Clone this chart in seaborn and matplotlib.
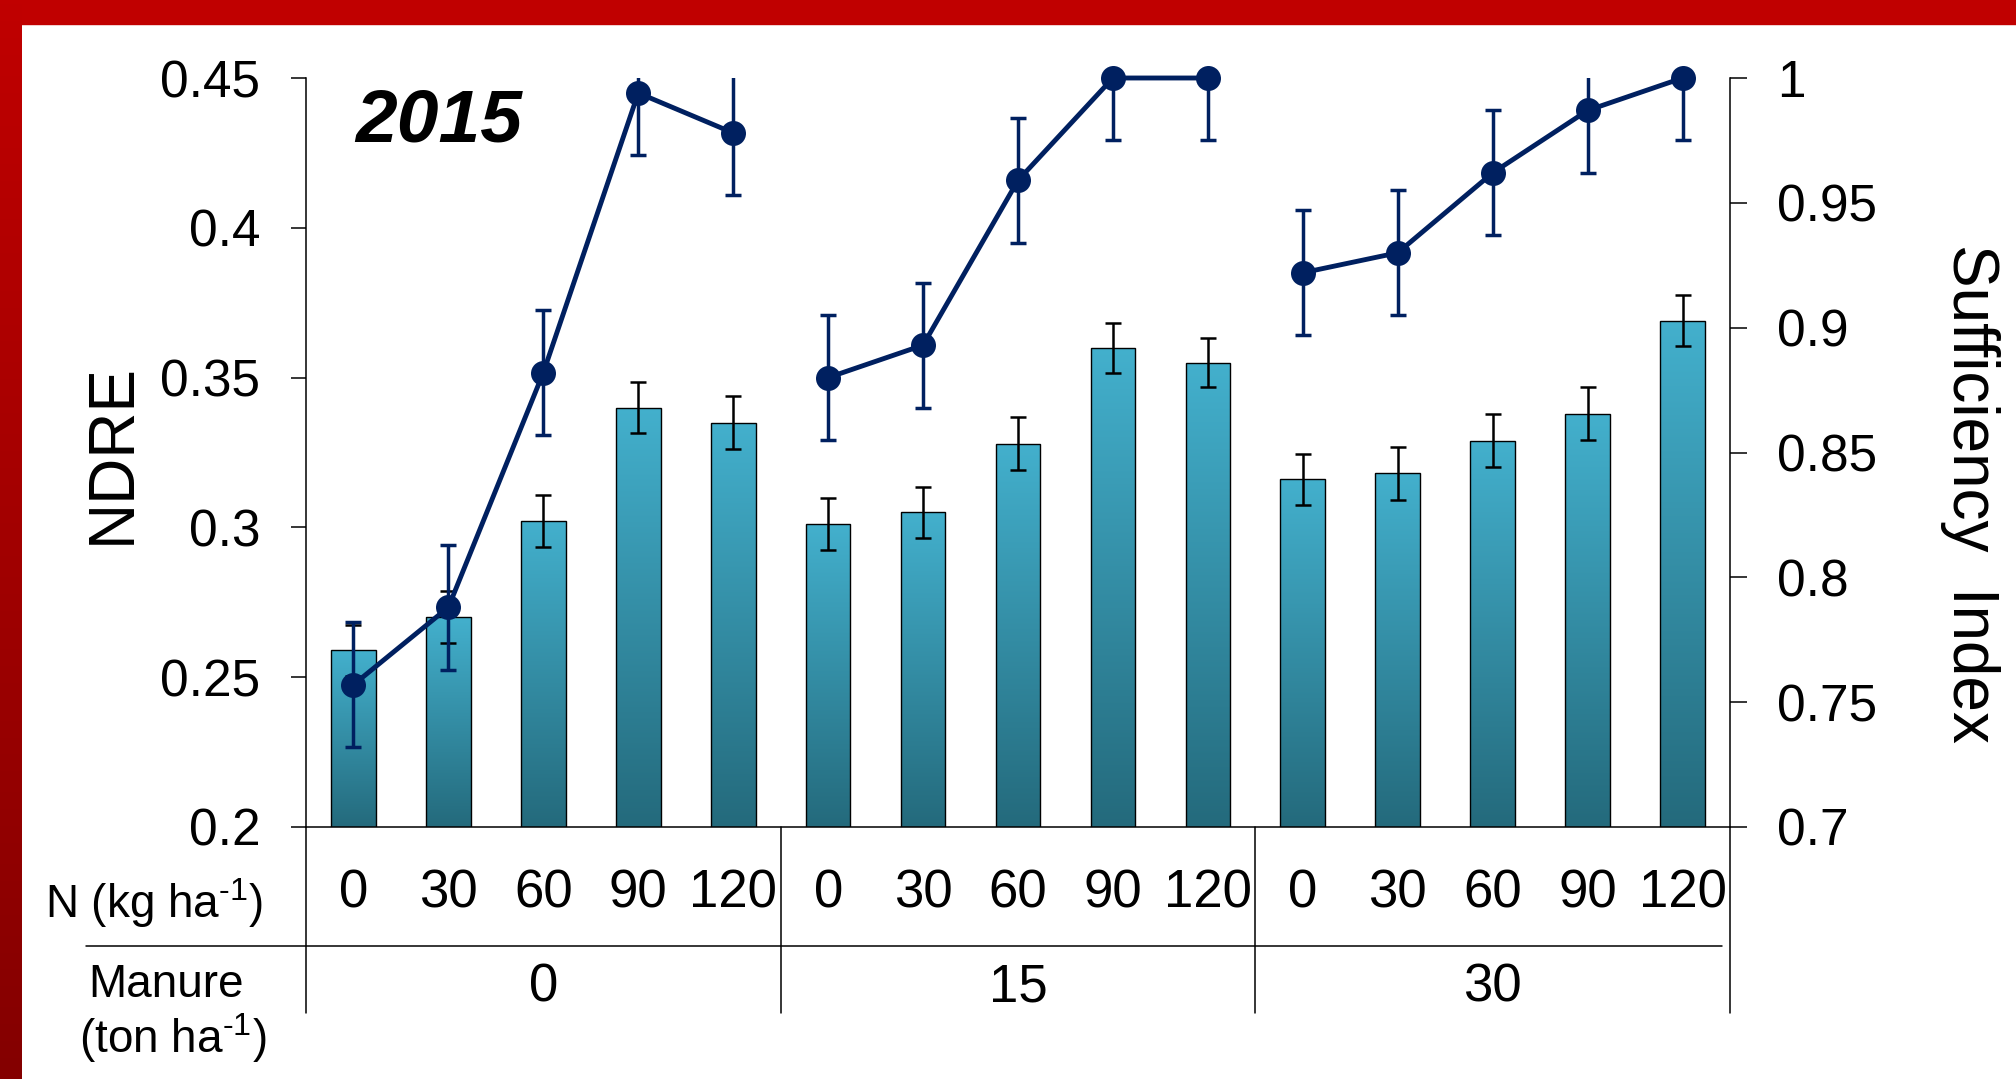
import numpy as np
import pandas as pd
import matplotlib
matplotlib.use("Agg")
import matplotlib.pyplot as plt
import seaborn as sns
from matplotlib.colors import LinearSegmentedColormap
from matplotlib.lines import Line2D
from matplotlib.patches import Rectangle

# ---------------- data ----------------
manure_levels = [0, 15, 30]
n_rates = [0, 30, 60, 90, 120]
ndre = [0.259, 0.270, 0.302, 0.340, 0.335,
        0.301, 0.305, 0.328, 0.360, 0.355,
        0.316, 0.318, 0.329, 0.338, 0.369]
ndre_se = [0.0085, 0.0087, 0.0087, 0.0085, 0.0087,
           0.0087, 0.0085, 0.0087, 0.0083, 0.0083,
           0.0085, 0.0087, 0.0087, 0.0087, 0.0085]
suff_index = [0.757, 0.788, 0.882, 0.994, 0.978,
              0.880, 0.893, 0.959, 1.000, 1.000,
              0.922, 0.930, 0.962, 0.987, 1.000]
suff_se = [0.025, 0.025, 0.025, 0.025, 0.025,
           0.025, 0.025, 0.025, 0.025, 0.025,
           0.025, 0.025, 0.025, 0.025, 0.025]

df = pd.DataFrame({
    "manure": np.repeat(manure_levels, len(n_rates)),
    "n": n_rates * len(manure_levels),
    "ndre": ndre,
    "si": suff_index,
})
df["pos"] = np.arange(len(df))
df["treat"] = df["manure"].astype(str) + "-" + df["n"].astype(str)

navy = "#002060"
W, H = 2016, 1079

sns.set_style("ticks")
plt.rcParams["font.family"] = ["Liberation Sans", "DejaVu Sans"]
plt.rcParams["mathtext.fontset"] = "custom"
plt.rcParams["mathtext.rm"] = "Liberation Sans"
plt.rcParams["mathtext.it"] = "Liberation Sans:italic"
plt.rcParams["text.color"] = "black"
plt.rcParams["axes.labelcolor"] = "black"

fig = plt.figure(figsize=(W / 100, H / 100), dpi=100)
fig.patch.set_facecolor("white")

# red frame (top bar + left gradient strip)
fig.add_artist(Rectangle((0, 1 - 24 / H), 1, 24 / H, transform=fig.transFigure,
                         color="#C00000", zorder=0))
strip = fig.add_axes([0, 0, 22 / W, 1])
red_cmap = LinearSegmentedColormap.from_list("red", ["#840000", "#C00000"])
strip.imshow(np.linspace(0, 1, 256).reshape(-1, 1), cmap=red_cmap,
             origin="lower", aspect="auto", extent=[0, 1, 0, 1])
strip.axis("off")

ax = fig.add_axes([306 / W, 1 - 827 / H, 1424 / W, 749 / H])

# NDRE bars
sns.barplot(data=df, x="treat", y="ndre", order=list(df["treat"]), color="#3A9DB8",
            width=0.47, edgecolor="black", linewidth=1.0, errorbar=None, ax=ax)

bar_cmap = LinearSegmentedColormap.from_list("bar", ["#246A7C", "#43B0CD"])
grad = np.linspace(0, 1, 256).reshape(-1, 1)
for p in ax.patches:
    x0, w, h = p.get_x(), p.get_width(), p.get_height()
    im = ax.imshow(grad, cmap=bar_cmap, origin="lower", aspect="auto",
                   extent=[x0, x0 + w, 0.2, h], zorder=p.get_zorder() - 0.1)
    im.set_clip_path(p)
    p.set_facecolor("none")

ax.errorbar(df["pos"], df["ndre"], yerr=ndre_se, fmt="none", ecolor="black",
            elinewidth=1.8, capsize=6, capthick=1.8, zorder=5)

ax.set_xlim(-0.5, len(df) - 0.5)
ax.set_ylim(0.2, 0.45)
yt = [0.2, 0.25, 0.3, 0.35, 0.4, 0.45]
ax.set_yticks(yt, [f"{v:g}" for v in yt])
ax.tick_params(axis="y", direction="out", length=11, width=1.1, pad=22,
               labelsize=37, colors="black")
ax.tick_params(axis="x", length=0, labelbottom=False)
ax.set_xlabel("")
ax.set_ylabel("")
for s in ["top", "right"]:
    ax.spines[s].set_visible(False)
for s in ["left", "bottom"]:
    ax.spines[s].set_linewidth(1.1)
    ax.spines[s].set_color("black")

# sufficiency index line on the right axis
ax2 = ax.twinx()
sns.lineplot(data=df, x="pos", y="si", hue="manure",
             palette={m: navy for m in manure_levels}, marker="o",
             markersize=18, markeredgewidth=0, linewidth=3.5, legend=False,
             ax=ax2, clip_on=False, zorder=4)
ax2.errorbar(df["pos"], df["si"], yerr=suff_se, fmt="none", ecolor=navy,
             elinewidth=2.5, capsize=6, capthick=2.5, zorder=3)
ax2.set_xlim(-0.5, len(df) - 0.5)
ax2.set_ylim(0.7, 1.0)
yt2 = [0.7, 0.75, 0.8, 0.85, 0.9, 0.95, 1.0]
ax2.set_yticks(yt2, [f"{v:g}" for v in yt2])
ax2.tick_params(axis="y", direction="out", length=12, width=1.1, pad=22,
                labelsize=37, colors="black")
ax2.set_xlabel("")
ax2.set_ylabel("")
for s in ["top", "left", "bottom"]:
    ax2.spines[s].set_visible(False)
ax2.spines["right"].set_linewidth(1.1)
ax2.spines["right"].set_color("black")

# category table under the axis
xt = ax.get_xaxis_transform()
for i, n in enumerate(df["n"]):
    ax.text(i, -0.1081, str(n), transform=xt, ha="center", va="baseline", fontsize=38)
for g, m in enumerate(manure_levels):
    ax.text(g * len(n_rates) + (len(n_rates) - 1) / 2, -0.2336, str(m),
            transform=xt, ha="center", va="baseline", fontsize=38)
for b in range(len(manure_levels) + 1):
    ax.plot([b * len(n_rates) - 0.5] * 2, [0, -0.2483], transform=xt,
            color="black", lw=1.1, clip_on=False)
fig.add_artist(Line2D([86 / W, 1722 / W], [1 - 946 / H] * 2,
                      transform=fig.transFigure, color="black", lw=1.1))

fig.text(263 / W, 1 - 918 / H, r"N (kg ha$^{\text{-1}}$)", ha="right",
         va="baseline", fontsize=33)
fig.text(166 / W, 1 - 997 / H, "Manure", ha="center", va="baseline", fontsize=33)
fig.text(173 / W, 1 - 1053 / H, r"(ton ha$^{\text{-1}}$)", ha="center",
         va="baseline", fontsize=33)

# axis titles and year tag
fig.text(113 / W, 1 - 453 / H, "NDRE", rotation=90, ha="center", va="center",
         fontsize=46)
fig.text(1970 / W, 1 - 494 / H, "Sufficiency  Index", rotation=270, ha="center",
         va="center", fontsize=46)
fig.text(355 / W, 1 - 142 / H, "2015", ha="left", va="baseline", fontsize=54,
         fontweight="bold", fontstyle="italic")

fig.savefig("out.png", dpi=100, facecolor="white")
